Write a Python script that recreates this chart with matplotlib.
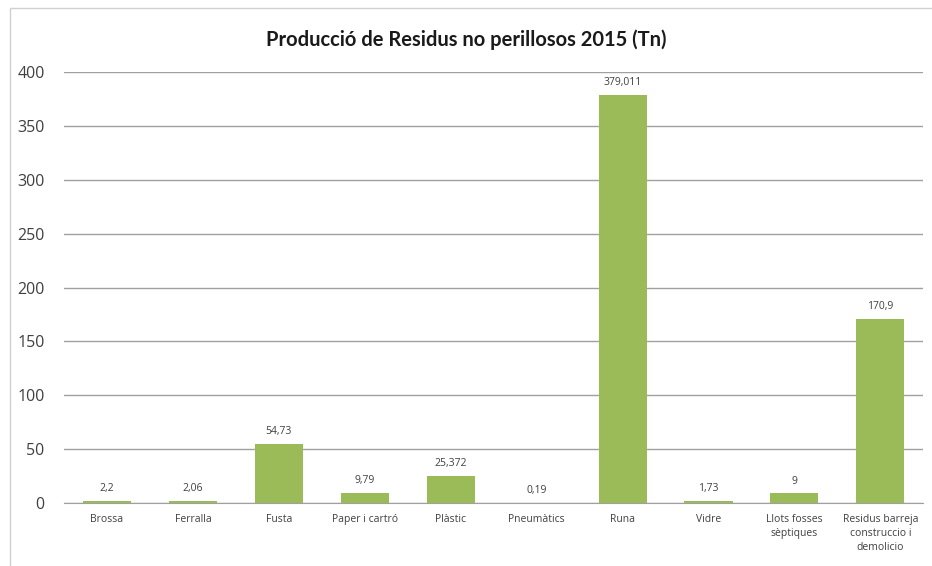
import matplotlib.pyplot as plt
from matplotlib.patches import Rectangle

categories = ["Brossa", "Ferralla", "Fusta", "Paper i cartró", "Plàstic",
              "Pneumàtics", "Runa", "Vidre", "Llots fosses\nsèptiques",
              "Residus barreja\nconstruccio i\ndemolicio"]
values = [2.2, 2.06, 54.73, 9.79, 25.372, 0.19, 379.011, 1.73, 9, 170.9]
value_labels = ["2,2", "2,06", "54,73", "9,79", "25,372", "0,19", "379,011",
                "1,73", "9", "170,9"]
yticks = [0, 50, 100, 150, 200, 250, 300, 350, 400]


def main():
    plt.rcParams["font.family"] = ["Open Sans", "DejaVu Sans"]
    fig = plt.figure(figsize=(9.32, 5.66), dpi=100)
    ax = fig.add_axes([0.0687, 0.111, 0.922, 0.762])

    # marc del grafic
    fig.patches.append(Rectangle((10 / 932, -0.01), 1.0, 1.0 - 8 / 566 + 0.01,
                                 transform=fig.transFigure, fill=False,
                                 edgecolor="#d0d0d0", linewidth=1.0))

    x = range(len(categories))
    bars = ax.bar(x, values, width=0.56, color="#9bbb59", zorder=3)

    for b, lab in zip(bars, value_labels):
        ax.annotate(lab, (b.get_x() + b.get_width() / 2, b.get_height()),
                    xytext=(0, 5), textcoords="offset points",
                    ha="center", va="bottom", fontsize=7.5, color="#404040")

    ax.set_xlim(-0.5, len(categories) - 0.5)
    ax.set_ylim(0, 400)
    ax.set_yticks(yticks)
    ax.set_yticklabels([str(t) for t in yticks], fontsize=11.5, color="#404040")
    ax.set_xticks(list(x))
    ax.set_xticklabels(categories, fontsize=7.5, color="#404040", linespacing=1.35)
    ax.tick_params(length=0, pad=8)
    ax.tick_params(axis="y", pad=14)
    ax.yaxis.grid(True, color="#a0a0a0", linewidth=1.0, zorder=0)
    for s in ["top", "right", "left"]:
        ax.spines[s].set_visible(False)
    ax.spines["bottom"].set_color("#a0a0a0")

    fig.text(0.5, 1 - 40 / 566, "Producció de Residus no perillosos 2015 (Tn)",
             ha="center", va="center", fontsize=14.5, fontweight="bold",
             family=["Lato", "DejaVu Sans"], color="#1a1a1a")

    fig.savefig("out.png", dpi=100)
    plt.close(fig)


if __name__ == "__main__":
    main()
